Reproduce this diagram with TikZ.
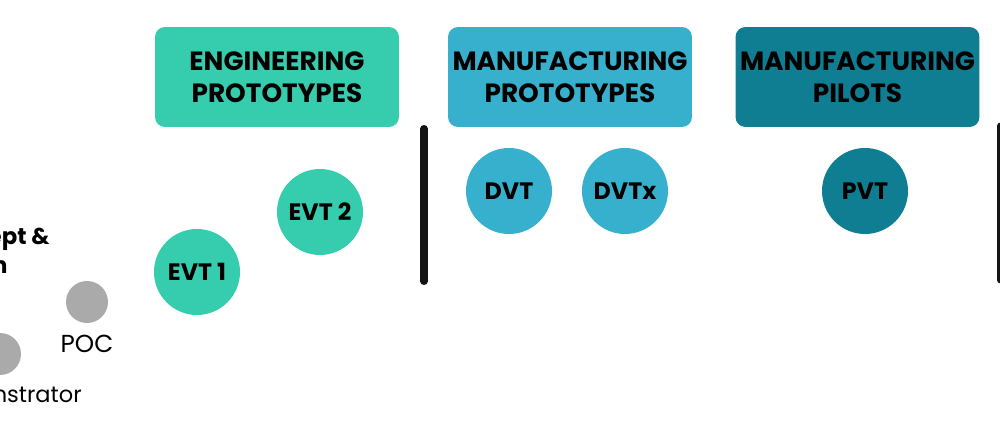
\documentclass[tikz,border=0pt]{standalone}
\usepackage{fontspec}
\setmainfont{Poppins}
\usetikzlibrary{positioning}
\definecolor{engc}{HTML}{36CCAE}
\definecolor{mfgc}{HTML}{36B0CC}
\definecolor{pilc}{HTML}{0F7D92}
\definecolor{dotc}{HTML}{AAAAAA}
\definecolor{barc}{HTML}{141414}
\begin{document}
\begin{tikzpicture}[x=0.02cm, y=-0.02cm, node distance={20mm},
    main/.style={circle, minimum size=1.72cm, inner sep=0pt, font=\fontsize{13.5}{16}\selectfont\bfseries},
    phase/.style={rounded corners=0.2cm, minimum width=4.88cm, minimum height=2cm, inner sep=0pt, align=center, font=\fontsize{15}{18.2}\selectfont\bfseries},
    dot/.style={circle, fill=dotc, minimum size=0.84cm, inner sep=0pt},
    lbl/.style={inner sep=0pt, font=\fontsize{14}{17}\selectfont},
    bar/.style={barc, line width=4pt, line cap=round}]
    \clip (0,0) rectangle (1000,438);

    \node[phase, fill=engc] (1) at (277,77) {ENGINEERING\\PROTOTYPES};
    \node[phase, fill=mfgc] (2) at (570,77) {MANUFACTURING\\PROTOTYPES};
    \node[phase, fill=pilc] (3) at (857.5,77) {MANUFACTURING\\PILOTS};

    \node[main, fill=engc] (4) at (197,272) {EVT 1};
    \node[main, fill=engc] (5) at (320,212) {EVT 2};
    \node[main, fill=mfgc] (6) at (509,191) {DVT};
    \node[main, fill=mfgc] (7) [right of=6, xshift=3.2mm] {DVTx};
    \node[main, fill=pilc] (8) at (865,191) {PVT};

    \node[dot] (9) at (87,302) {};
    \node[lbl] (10) [below of=9, yshift=11.6mm] {POC};
    \node[dot] (11) at (0,354) {};
    \node[lbl, anchor=east, font=\fontsize{12.8}{15}\selectfont] (12) at (82,395) {Demonstrator};

    \node[inner sep=0pt, anchor=north east, align=left, font=\fontsize{13}{16.5}\selectfont\bfseries] (13) at (50,228) {Concept \&\\Design};

    \coordinate (14) at (424,128.5);
    \coordinate (15) at (424,281.5);
    \coordinate (16) at (1000.5,126);
    \coordinate (17) at (1000.5,280);

    \draw[bar] (14) -- (15);
    \draw[bar] (16) -- (17);
\end{tikzpicture}
\end{document}
